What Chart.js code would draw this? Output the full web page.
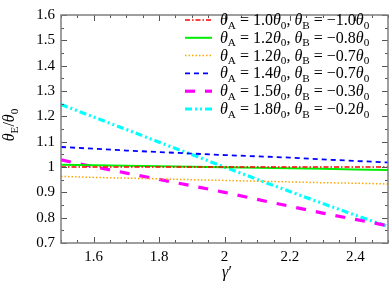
<!DOCTYPE html>
<html>
<head>
<meta charset="utf-8">
<script src="https://cdn.jsdelivr.net/npm/chart.js@4.4.1/dist/chart.umd.min.js"></script>
<style>
  html, body { margin: 0; padding: 0; background: #fff; }
  #wrap { width: 390px; height: 284px; }
</style>
</head>
<body>
<div id="wrap"><canvas id="grafico" width="390" height="284"></canvas></div>
<script>
// Datos
const gammaVals = [1.5, 1.6, 1.7, 1.8, 1.9, 2.0, 2.1, 2.2, 2.3, 2.4, 2.5];
const serieRojo = [1.0, 1.0, 1.0, 1.0, 1.0, 1.0, 1.0, 1.0, 1.0, 1.0, 1.0];
const serieVerde = [1.009, 1.007, 1.005, 1.003, 1.001, 0.999, 0.997, 0.995, 0.993, 0.990, 0.988];
const serieNaranja = [0.963, 0.959, 0.956, 0.953, 0.950, 0.947, 0.944, 0.941, 0.938, 0.936, 0.933];
const serieAzul = [1.079, 1.072, 1.065, 1.059, 1.053, 1.047, 1.042, 1.037, 1.030, 1.024, 1.018];
const serieMagenta = [1.028, 1.001, 0.976, 0.951, 0.926, 0.900, 0.872, 0.845, 0.818, 0.793, 0.768];
const serieCian = [1.247, 1.197, 1.148, 1.098, 1.049, 1.000, 0.951, 0.903, 0.856, 0.810, 0.765];

const etiquetas = [
    'θA = 1.0θ0, θB = −1.0θ0',
    'θA = 1.2θ0, θB = −0.8θ0',
    'θA = 1.2θ0, θB = −0.7θ0',
    'θA = 1.4θ0, θB = −0.7θ0',
    'θA = 1.5θ0, θB = −0.3θ0',
    'θA = 1.8θ0, θB = −0.2θ0'
];
const ticksX = [1.6, 1.8, 2.0, 2.2, 2.4];
const ticksY = [0.7, 0.8, 0.9, 1.0, 1.1, 1.2, 1.3, 1.4, 1.5, 1.6];
const tituloX = 'γ′';
const tituloY = 'θE/θ0';

const fuente = '"Liberation Serif", "DejaVu Serif", serif';

function puntos(valores) {
    return gammaVals.map((g, i) => ({ x: g, y: valores[i] }));
}

// texto con subíndices: el carácter después de θ va como subíndice
function partesTexto(texto) {
    const partes = [];
    for (let i = 0; i < texto.length; i++) {
        const ch = texto[i];
        if (ch === 'θ' || ch === 'γ') {
            partes.push({ t: ch, italic: true, sub: false });
            const sig = texto[i + 1];
            if (sig && /[AB0E]/.test(sig)) {
                partes.push({ t: sig, italic: false, sub: true });
                i++;
            }
        } else {
            partes.push({ t: ch, italic: false, sub: false });
        }
    }
    return partes;
}

function dibujarTexto(ctx, texto, x, y, tam, alinear) {
    const partes = partesTexto(texto);
    const fontDe = p => (p.italic ? 'italic ' : '') + (p.sub ? tam * 0.7 : tam) + 'px ' + fuente;
    let ancho = 0;
    partes.forEach(p => {
        ctx.font = fontDe(p);
        p.w = ctx.measureText(p.t).width;
        ancho += p.w;
    });
    let cx = alinear === 'center' ? x - ancho / 2 : x;
    ctx.textAlign = 'left';
    ctx.textBaseline = 'alphabetic';
    partes.forEach(p => {
        ctx.font = fontDe(p);
        ctx.fillText(p.t, cx, p.sub ? y + tam * 0.22 : y);
        cx += p.w;
    });
}

const colores = ['#ff0000', '#00ee00', '#ffa500', '#0000ff', '#ff00ff', '#00ffff'];
const anchos = [1.5, 2, 1.5, 1.8, 3.2, 3.2];
const guiones = [[5, 2, 1.5, 2], [], [1.5, 2], [5, 4], [10, 10], [7, 3, 2, 3, 2, 3]];
const series = [serieRojo, serieVerde, serieNaranja, serieAzul, serieMagenta, serieCian];

// marco, ticks hacia adentro, leyenda y títulos
const pluginMarco = {
    id: 'marco',
    afterDraw(chart) {
        const ctx = chart.ctx;
        const a = chart.chartArea;
        const sx = chart.scales.x;
        const sy = chart.scales.y;
        ctx.save();

        ctx.strokeStyle = '#555';
        ctx.lineWidth = 1;
        ctx.beginPath();
        for (let k = 0; k <= 20; k++) {
            const v = 1.5 + k * 0.05;
            const px = Math.round(sx.getPixelForValue(v)) + 0.5;
            const mayor = (k - 2) % 4 === 0;
            const l = mayor ? 6 : 3;
            ctx.moveTo(px, a.bottom); ctx.lineTo(px, a.bottom - l);
            ctx.moveTo(px, a.top); ctx.lineTo(px, a.top + l);
        }
        for (let k = 0; k <= 18; k++) {
            const v = 0.7 + k * 0.05;
            const py = Math.round(sy.getPixelForValue(v)) + 0.5;
            const l = k % 2 === 0 ? 6 : 3;
            ctx.moveTo(a.left, py); ctx.lineTo(a.left + l, py);
            ctx.moveTo(a.right, py); ctx.lineTo(a.right - l, py);
        }
        ctx.stroke();

        ctx.strokeStyle = '#7f7f7f';
        ctx.lineWidth = 1.5;
        ctx.strokeRect(a.left, a.top, a.right - a.left, a.bottom - a.top);

        // leyenda
        ctx.fillStyle = '#000';
        chart.data.datasets.forEach((ds, i) => {
            const yc = 20 + i * 17.8;
            ctx.save();
            ctx.strokeStyle = ds.borderColor;
            ctx.lineWidth = ds.borderWidth;
            ctx.setLineDash(ds.borderDash || []);
            ctx.beginPath();
            ctx.moveTo(185, yc);
            ctx.lineTo(212, yc);
            ctx.stroke();
            ctx.restore();
            dibujarTexto(ctx, ds.label, 220, yc + 5, 16, 'left');
        });

        // títulos de ejes
        dibujarTexto(ctx, tituloX, 227, 277, 16, 'center');
        ctx.save();
        ctx.translate(14, 125);
        ctx.rotate(-Math.PI / 2);
        dibujarTexto(ctx, tituloY, 0, 0, 16, 'center');
        ctx.restore();

        ctx.restore();
    }
};

const ctx = document.getElementById('grafico').getContext('2d');
window.grafico = new Chart(ctx, {
    type: 'line',
    data: {
        datasets: series.map((s, i) => ({
            label: etiquetas[i],
            data: puntos(s),
            borderColor: colores[i],
            borderWidth: anchos[i],
            borderDash: guiones[i],
            pointRadius: 0,
            fill: false,
            tension: 0
        }))
    },
    options: {
        responsive: false,
        animation: false,
        layout: { padding: { left: 0, right: 2, top: 6, bottom: 0 } },
        plugins: {
            legend: { display: false },
            tooltip: { enabled: false }
        },
        scales: {
            x: {
                type: 'linear',
                min: 1.5,
                max: 2.5,
                grid: { display: false, drawTicks: false },
                border: { display: false },
                afterBuildTicks: scale => { scale.ticks = ticksX.map(v => ({ value: v })); },
                afterFit: scale => { scale.height = 41; },
                ticks: {
                    color: '#000',
                    padding: 5,
                    maxRotation: 0,
                    autoSkip: false,
                    font: { family: fuente, size: 15 },
                    callback: v => String(Number(v.toFixed(1)))
                }
            },
            y: {
                type: 'linear',
                min: 0.7,
                max: 1.6,
                grid: { display: false, drawTicks: false },
                border: { display: false },
                afterBuildTicks: scale => { scale.ticks = ticksY.map(v => ({ value: v })); },
                afterFit: scale => { scale.width = 61; },
                ticks: {
                    color: '#000',
                    padding: 6,
                    autoSkip: false,
                    font: { family: fuente, size: 15 },
                    callback: v => String(Number(v.toFixed(1)))
                }
            }
        }
    },
    plugins: [pluginMarco]
});
</script>
</body>
</html>
